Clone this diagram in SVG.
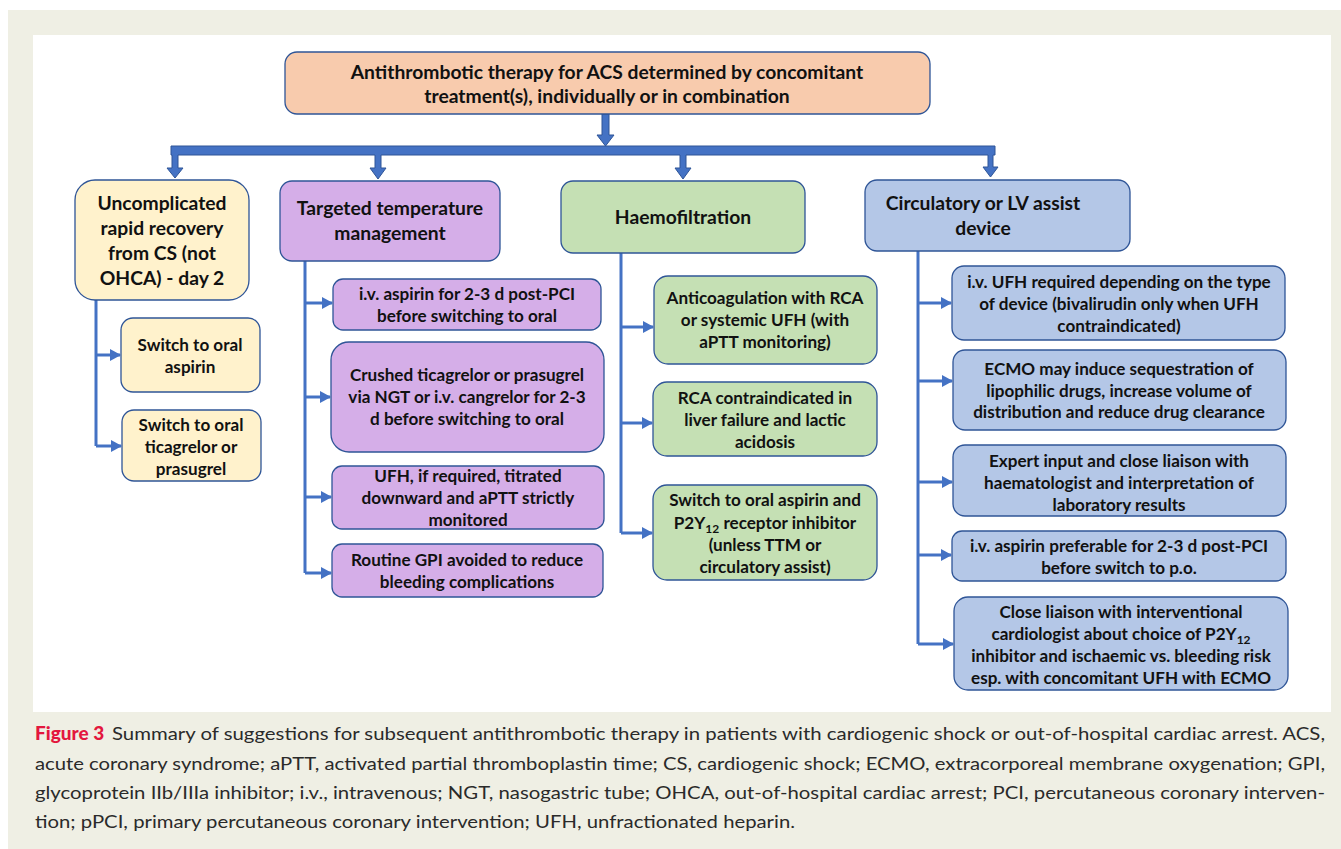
<svg xmlns="http://www.w3.org/2000/svg" width="1341" height="849" viewBox="0 0 1341 849">
<defs>
<style>
.box{stroke:#2f5597;stroke-width:1.3}
.y{fill:#fff2cc}.p{fill:#d5aee8}.g{fill:#c5e0b4}.b{fill:#b4c7e7}.h{fill:#f8cbad}
.t{font-family:Lato,"Open Sans",sans-serif;font-weight:700;fill:#111;text-anchor:middle}
.t1{font-size:19.3px}.t2{font-size:17.1px}.t0{font-size:19.3px}
.c{fill:none;stroke:#4472c4;stroke-width:3}
.trunk{fill:#4472c4;stroke:#2f5597;stroke-width:1}
.cap{font-family:Lato,"Open Sans",sans-serif;font-size:18px;fill:#2a2a2a}
</style>
<marker id="ah" markerUnits="userSpaceOnUse" markerWidth="11" markerHeight="12" refX="10" refY="6" orient="auto">
<path d="M0,0 L11,6 L0,12 z" fill="#4472c4"/>
</marker>
</defs>
<rect x="0" y="0" width="1341" height="849" fill="#ffffff"/>
<rect x="8" y="10" width="1333" height="839" fill="#efefe4"/>
<rect x="33" y="35" width="1298" height="677" fill="#ffffff"/>

<g id="connectors">
<path class="trunk" d="M602,114 H609 V135 H614 L605.5,146 L597,135 H602 Z"/>
<path class="trunk" d="M171,146 H995 V155 H993 V167 H998 L990.5,177 L983,167 H988 V155 H686 V168 H691 L683,179 L675,168 H680 V155 H381 V168 H386 L378,179 L370,168 H375 V155 H178 V168 H183 L175,178 L167,168 H172 V155 H171 Z"/>
<g>
<path class="c" d="M96,300 V446"/>
<path class="c" d="M96,355 H120" marker-end="url(#ah)"/>
<path class="c" d="M96,446 H121" marker-end="url(#ah)"/>
<path class="c" d="M305,261 V573"/>
<path class="c" d="M305,303 H332" marker-end="url(#ah)"/>
<path class="c" d="M305,397 H330" marker-end="url(#ah)"/>
<path class="c" d="M305,497 H331" marker-end="url(#ah)"/>
<path class="c" d="M305,573 H331" marker-end="url(#ah)"/>
<path class="c" d="M621,253 V533"/>
<path class="c" d="M621,327 H653" marker-end="url(#ah)"/>
<path class="c" d="M621,423 H652" marker-end="url(#ah)"/>
<path class="c" d="M621,533 H652" marker-end="url(#ah)"/>
<path class="c" d="M918,251 V644"/>
<path class="c" d="M918,303 H951" marker-end="url(#ah)"/>
<path class="c" d="M918,381 H952" marker-end="url(#ah)"/>
<path class="c" d="M918,482 H952" marker-end="url(#ah)"/>
<path class="c" d="M918,555 H951" marker-end="url(#ah)"/>
<path class="c" d="M918,644 H953" marker-end="url(#ah)"/>
</g>
</g>

<g id="n-header">
<rect class="box h" x="285" y="52" width="645" height="62" rx="12"/>
<text class="t t0" x="607" y="79">Antithrombotic therapy for ACS determined by concomitant</text>
<text class="t t0" x="607" y="103">treatment(s), individually or in combination</text>
</g>

<g id="n-uncomplicated">
<rect class="box y" x="75" y="180" width="174" height="120" rx="20"/>
<text class="t t1" x="162" y="210">Uncomplicated</text>
<text class="t t1" x="162" y="235">rapid recovery</text>
<text class="t t1" x="162" y="260">from CS (not</text>
<text class="t t1" x="162" y="285">OHCA) - day 2</text>
</g>
<g id="n-y1">
<rect class="box y" x="121" y="318" width="139" height="74" rx="12"/>
<text class="t t2" x="190" y="351">Switch to oral</text>
<text class="t t2" x="190" y="373">aspirin</text>
</g>
<g id="n-y2">
<rect class="box y" x="122" y="410" width="139" height="71" rx="12"/>
<text class="t t2" x="191" y="431">Switch to oral</text>
<text class="t t2" x="191" y="453">ticagrelor or</text>
<text class="t t2" x="191" y="475">prasugrel</text>
</g>

<g id="n-ttm">
<rect class="box p" x="280" y="181" width="220" height="80" rx="12"/>
<text class="t t1" x="390" y="215">Targeted temperature</text>
<text class="t t1" x="390" y="240">management</text>
</g>
<g id="n-p1">
<rect class="box p" x="333" y="279" width="268" height="51" rx="10"/>
<text class="t t2" x="467" y="300">i.v. aspirin for 2-3 d post-PCI</text>
<text class="t t2" x="467" y="322">before switching to oral</text>
</g>
<g id="n-p2">
<rect class="box p" x="331" y="342" width="273" height="110" rx="18"/>
<text class="t t2" x="467" y="381">Crushed ticagrelor or prasugrel</text>
<text class="t t2" x="467" y="403">via NGT or i.v. cangrelor for 2-3</text>
<text class="t t2" x="467" y="425">d before switching to oral</text>
</g>
<g id="n-p3">
<rect class="box p" x="332" y="466" width="272" height="63" rx="10"/>
<text class="t t2" x="468" y="482">UFH, if required, titrated</text>
<text class="t t2" x="468" y="504">downward and aPTT strictly</text>
<text class="t t2" x="468" y="526">monitored</text>
</g>
<g id="n-p4">
<rect class="box p" x="332" y="544" width="271" height="53" rx="10"/>
<text class="t t2" x="467" y="566">Routine GPI avoided to reduce</text>
<text class="t t2" x="467" y="588">bleeding complications</text>
</g>

<g id="n-haemo">
<rect class="box g" x="561" y="181" width="244" height="72" rx="12"/>
<text class="t t1" x="683" y="224">Haemofiltration</text>
</g>
<g id="n-g1">
<rect class="box g" x="654" y="276" width="223" height="88" rx="14"/>
<text class="t t2" x="765" y="304">Anticoagulation with RCA</text>
<text class="t t2" x="765" y="326">or systemic UFH (with</text>
<text class="t t2" x="765" y="348">aPTT monitoring)</text>
</g>
<g id="n-g2">
<rect class="box g" x="653" y="382" width="224" height="74" rx="14"/>
<text class="t t2" x="765" y="404">RCA contraindicated in</text>
<text class="t t2" x="765" y="426">liver failure and lactic</text>
<text class="t t2" x="765" y="448">acidosis</text>
</g>
<g id="n-g3">
<rect class="box g" x="653" y="485" width="224" height="95" rx="14"/>
<text class="t t2" x="765" y="506">Switch to oral aspirin and</text>
<text class="t t2" x="765" y="529">P2Y<tspan font-size="12" dy="4">12</tspan><tspan dy="-4"> receptor inhibitor</tspan></text>
<text class="t t2" x="765" y="551">(unless TTM or</text>
<text class="t t2" x="765" y="573">circulatory assist)</text>
</g>

<g id="n-circ">
<rect class="box b" x="865" y="180" width="265" height="71" rx="12"/>
<text class="t t1" x="983" y="210">Circulatory or LV assist</text>
<text class="t t1" x="983" y="235">device</text>
</g>
<g id="n-b1">
<rect class="box b" x="952" y="266" width="333" height="74" rx="12"/>
<text class="t t2" x="1119" y="288">i.v. UFH required depending on the type</text>
<text class="t t2" x="1119" y="310">of device (bivalirudin only when UFH</text>
<text class="t t2" x="1119" y="332">contraindicated)</text>
</g>
<g id="n-b2">
<rect class="box b" x="953" y="350" width="333" height="80" rx="12"/>
<text class="t t2" x="1119" y="375">ECMO may induce sequestration of</text>
<text class="t t2" x="1119" y="397">lipophilic drugs, increase volume of</text>
<text class="t t2" x="1119" y="418">distribution and reduce drug clearance</text>
</g>
<g id="n-b3">
<rect class="box b" x="953" y="445" width="333" height="71" rx="12"/>
<text class="t t2" x="1119" y="467">Expert input and close liaison with</text>
<text class="t t2" x="1119" y="489">haematologist and interpretation of</text>
<text class="t t2" x="1119" y="511">laboratory results</text>
</g>
<g id="n-b4">
<rect class="box b" x="952" y="531" width="334" height="50" rx="10"/>
<text class="t t2" x="1119" y="552">i.v. aspirin preferable for 2-3 d post-PCI</text>
<text class="t t2" x="1119" y="574">before switch to p.o.</text>
</g>
<g id="n-b5">
<rect class="box b" x="954" y="597" width="334" height="93" rx="14"/>
<text class="t t2" x="1121" y="618">Close liaison with interventional</text>
<text class="t t2" x="1121" y="640">cardiologist about choice of P2Y<tspan font-size="12" dy="4">12</tspan></text>
<text class="t t2" x="1121" y="662">inhibitor and ischaemic vs. bleeding risk</text>
<text class="t t2" x="1121" y="684">esp. with concomitant UFH with ECMO</text>
</g>

<g id="caption">
<text x="35" y="740" font-family="Lato,'Open Sans',sans-serif" font-weight="900" font-size="19" fill="#e3173e">Figure 3</text>
<text class="cap" x="112" y="740" textLength="1213" lengthAdjust="spacingAndGlyphs">Summary of suggestions for subsequent antithrombotic therapy in patients with cardiogenic shock or out-of-hospital cardiac arrest. ACS,</text>
<text class="cap" x="35" y="770" textLength="1290" lengthAdjust="spacingAndGlyphs">acute coronary syndrome; aPTT, activated partial thromboplastin time; CS, cardiogenic shock; ECMO, extracorporeal membrane oxygenation; GPI,</text>
<text class="cap" x="35" y="799" textLength="1290" lengthAdjust="spacingAndGlyphs">glycoprotein IIb/IIIa inhibitor; i.v., intravenous; NGT, nasogastric tube; OHCA, out-of-hospital cardiac arrest; PCI, percutaneous coronary interven-</text>
<text class="cap" x="35" y="828" textLength="760" lengthAdjust="spacingAndGlyphs">tion; pPCI, primary percutaneous coronary intervention; UFH, unfractionated heparin.</text>
</g>
</svg>
